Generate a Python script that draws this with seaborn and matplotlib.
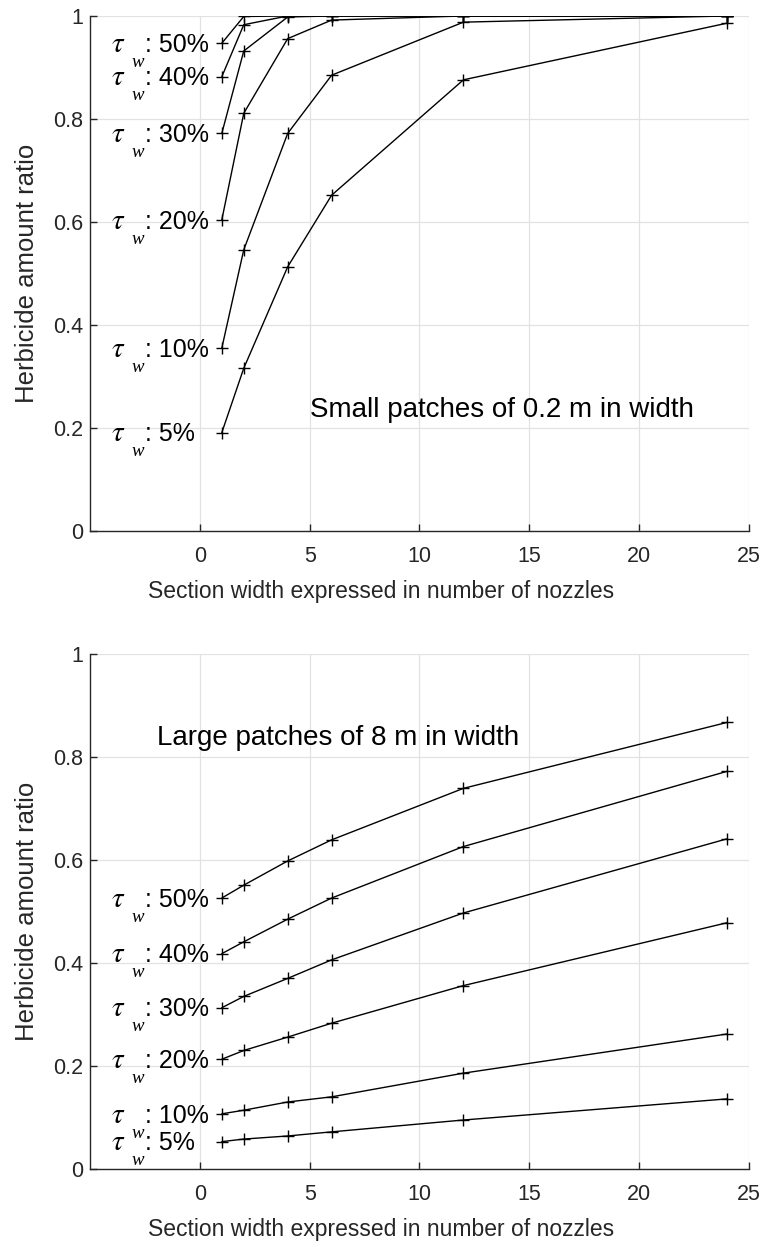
import matplotlib
matplotlib.use("Agg")
import matplotlib.pyplot as plt
import seaborn as sns
import pandas as pd

# ---- data ----
nozzles = [1, 2, 4, 6, 12, 24]
tau_labels = ["50%", "40%", "30%", "20%", "10%", "5%"]

small_50 = [0.947, 0.999, 1.000, 1.000, 1.000, 1.000]
small_40 = [0.882, 0.983, 1.000, 1.000, 1.000, 1.000]
small_30 = [0.772, 0.932, 0.998, 1.000, 1.000, 1.000]
small_20 = [0.604, 0.811, 0.956, 0.992, 1.000, 1.000]
small_10 = [0.355, 0.546, 0.772, 0.885, 0.988, 1.000]
small_05 = [0.191, 0.316, 0.513, 0.652, 0.876, 0.986]

large_50 = [0.526, 0.551, 0.598, 0.639, 0.739, 0.867]
large_40 = [0.418, 0.441, 0.485, 0.526, 0.626, 0.772]
large_30 = [0.313, 0.335, 0.370, 0.406, 0.497, 0.641]
large_20 = [0.213, 0.230, 0.256, 0.283, 0.356, 0.478]
large_10 = [0.107, 0.114, 0.130, 0.140, 0.186, 0.262]
large_05 = [0.053, 0.058, 0.064, 0.072, 0.095, 0.136]

small_series = [small_50, small_40, small_30, small_20, small_10, small_05]
large_series = [large_50, large_40, large_30, large_20, large_10, large_05]

x_ticks = [0, 5, 10, 15, 20, 25]
y_ticks = [0, 0.2, 0.4, 0.6, 0.8, 1.0]
y_tick_labels = ["0", "0.2", "0.4", "0.6", "0.8", "1"]
x_tick_labels = ["0", "5", "10", "15", "20", "25"]

xlabel = "Section width expressed in number of nozzles"
ylabel = "Herbicide amount ratio"
small_title = "Small patches of 0.2 m in width"
large_title = "Large patches of 8 m in width"


def to_long(series):
    rows = []
    for lab, vals in zip(tau_labels, series):
        for x, v in zip(nozzles, vals):
            rows.append({"x": x, "ratio": v, "tau": lab})
    return pd.DataFrame(rows)


sns.set_theme(style="white")
plt.rcParams["font.family"] = ["Liberation Sans", "DejaVu Sans"]
plt.rcParams["mathtext.fontset"] = "stix"

fig = plt.figure(figsize=(7.66, 12.47), dpi=100)
ax_top = fig.add_axes([0.1175, 0.5742, 0.8603, 0.413])
ax_bot = fig.add_axes([0.1175, 0.0626, 0.8603, 0.413])

TXT = "#262626"
GRID = "#e2e2e2"


def style_axis(ax):
    ax.set_xlim(-5, 25)
    ax.set_ylim(0, 1)
    ax.set_xticks(x_ticks)
    ax.set_xticklabels(x_tick_labels)
    ax.set_yticks(y_ticks)
    ax.set_yticklabels(y_tick_labels)
    ax.grid(True, color=GRID, linewidth=0.9)
    ax.set_axisbelow(True)
    for s in ["top", "right"]:
        ax.spines[s].set_visible(False)
    for s in ["left", "bottom"]:
        ax.spines[s].set_color(TXT)
        ax.spines[s].set_linewidth(1.0)
    ax.tick_params(direction="in", length=5, width=1, color=TXT,
                   labelsize=15.5, labelcolor=TXT, left=True, bottom=True)
    ax.tick_params(axis="x", pad=11)
    ax.tick_params(axis="y", pad=5)
    ax.set_xlabel(xlabel, fontsize=16.5, color=TXT)
    ax.xaxis.set_label_coords(0.442, -0.095)
    ax.set_ylabel(ylabel, fontsize=18.5, color=TXT)
    ax.yaxis.set_label_coords(-0.078, 0.5)


def draw(ax, series):
    df = to_long(series)
    sns.lineplot(data=df, x="x", y="ratio", hue="tau",
                 palette=["black"] * len(tau_labels), legend=False,
                 marker="+", markersize=9, markeredgecolor="black",
                 markeredgewidth=1.0, linewidth=1.0, ax=ax, errorbar=None)
    for lab, vals in zip(tau_labels, series):
        base = vals[0] - 0.017
        ax.text(-4.05, base, r"$\tau$", fontsize=21, ha="left",
                va="baseline", color="black")
        ax.text(-3.1, base - 0.029, "w", fontsize=13.5, ha="left",
                va="baseline", color="black", family="Liberation Serif",
                style="italic")
        ax.text(-2.5, base, ": " + lab, fontsize=18, ha="left",
                va="baseline", color="black")


draw(ax_top, small_series)
draw(ax_bot, large_series)
style_axis(ax_top)
style_axis(ax_bot)

ax_top.text(5.0, 0.235, small_title, fontsize=20, ha="left", va="center",
            color="black")
ax_bot.text(-1.95, 0.837, large_title, fontsize=20, ha="left", va="center",
            color="black")

fig.savefig("out.png", dpi=100, facecolor="white")
